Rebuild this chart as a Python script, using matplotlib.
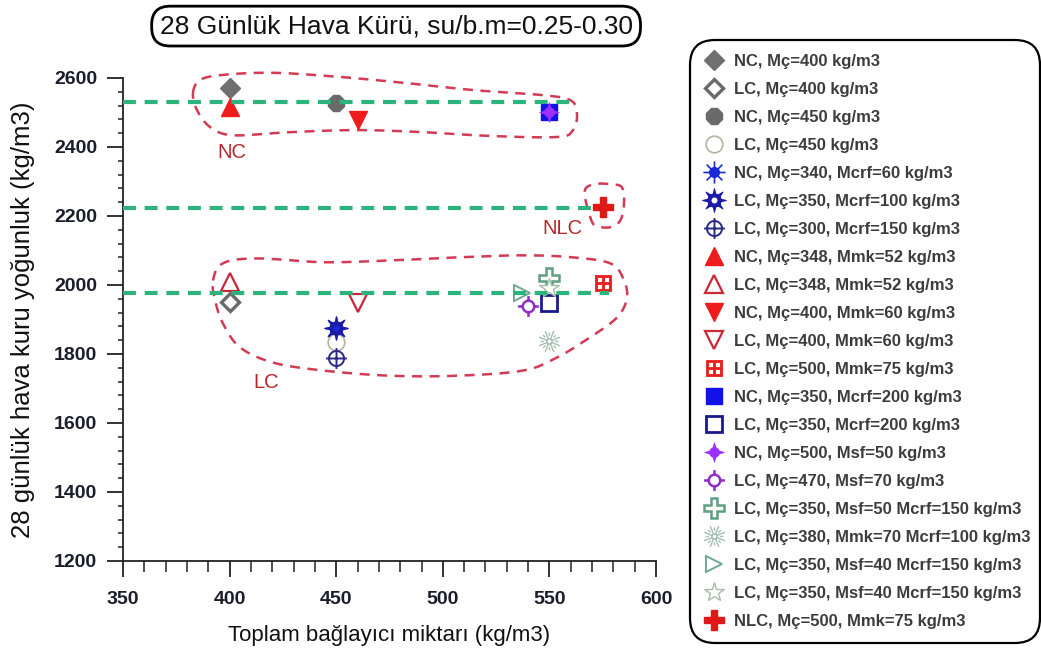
import numpy as np
import matplotlib
matplotlib.use("Agg")
import matplotlib.pyplot as plt
from matplotlib.path import Path

plt.rcParams['font.family'] = ['Liberation Sans', 'DejaVu Sans']

# ---------------- data ----------------
labels = [
    "NC, Mç=400 kg/m3",
    "LC, Mç=400 kg/m3",
    "NC, Mç=450 kg/m3",
    "LC, Mç=450 kg/m3",
    "NC, Mç=340, Mcrf=60 kg/m3",
    "LC, Mç=350, Mcrf=100 kg/m3",
    "LC, Mç=300, Mcrf=150 kg/m3",
    "NC, Mç=348, Mmk=52 kg/m3",
    "LC, Mç=348, Mmk=52 kg/m3",
    "NC, Mç=400, Mmk=60 kg/m3",
    "LC, Mç=400, Mmk=60 kg/m3",
    "LC, Mç=500, Mmk=75 kg/m3",
    "NC, Mç=350, Mcrf=200 kg/m3",
    "LC, Mç=350, Mcrf=200 kg/m3",
    "NC, Mç=500, Msf=50 kg/m3",
    "LC, Mç=470, Msf=70 kg/m3",
    "LC, Mç=350, Msf=50 Mcrf=150 kg/m3",
    "LC, Mç=380, Mmk=70 Mcrf=100 kg/m3",
    "LC, Mç=350, Msf=40 Mcrf=150 kg/m3",
    "LC, Mç=350, Msf=40 Mcrf=150 kg/m3",
    "NLC, Mç=500, Mmk=75 kg/m3",
]
binder = [400, 400, 450, 450, 450, 450, 450, 400, 400, 460, 460, 575,
          550, 550, 550, 540, 550, 550, 537, 550, 575]
density = [2570, 1950, 2527, 1835, 1874, 1874, 1787, 2515, 2010, 2478, 1947, 2005,
           2501, 1947, 2500, 1938, 2019, 1839, 1976, 1990, 2225]

# group mean levels (NC, NLC, LC)
group_names = ["NC", "NLC", "LC"]
group_level = [2530, 2222, 1976]
group_end = [562, 571, 578]

x_ticks = [350, 400, 450, 500, 550, 600]
y_ticks = [1200, 1400, 1600, 1800, 2000, 2200, 2400, 2600]


# ---------------- custom marker shapes ----------------
def circle_path(r, n=48, cw=False):
    t = np.linspace(0, 2 * np.pi, n, endpoint=False)
    if cw:
        t = -t
    v = np.column_stack([r * np.cos(t), r * np.sin(t)])
    v = np.vstack([v, v[:1]])
    codes = [Path.MOVETO] + [Path.LINETO] * (n - 1) + [Path.CLOSEPOLY]
    return Path(v, codes)


def segments_path(segs):
    verts, codes = [], []
    for a, b in segs:
        verts += [a, b]
        codes += [Path.MOVETO, Path.LINETO]
    return Path(verts, codes)


def polygon_path(pts):
    v = np.vstack([pts, pts[:1]])
    codes = [Path.MOVETO] + [Path.LINETO] * (len(pts) - 1) + [Path.CLOSEPOLY]
    return Path(v, codes)


def rays(n, r0, r1, offset=0.0):
    out = []
    for k in range(n):
        a = offset + 2 * np.pi * k / n
        out.append(((r0 * np.cos(a), r0 * np.sin(a)), (r1 * np.cos(a), r1 * np.sin(a))))
    return out


def spikes(n, rb, rt, half, offset=0.0):
    out = []
    for k in range(n):
        a = offset + 2 * np.pi * k / n
        pts = np.array([[rb * np.cos(a - half), rb * np.sin(a - half)],
                        [rt * np.cos(a), rt * np.sin(a)],
                        [rb * np.cos(a + half), rb * np.sin(a + half)]])
        out.append(polygon_path(pts))
    return out


sun_filled = Path.make_compound_path(circle_path(0.42), segments_path(rays(8, 0.42, 1.0)))
sun_open = Path.make_compound_path(circle_path(0.55), circle_path(0.3, cw=True),
                                   *spikes(8, 0.545, 1.0, 0.2))
cross_circle = Path.make_compound_path(circle_path(0.72),
                                       segments_path([((-1, 0), (1, 0)), ((0, -1), (0, 1))]))
dot_spikes = Path.make_compound_path(circle_path(0.5),
                                     *spikes(4, 0.49, 1.0, 0.3, offset=np.pi / 2))
ring_spikes = Path.make_compound_path(circle_path(0.55),
                                      segments_path(rays(4, 0.55, 1.0, offset=np.pi / 2)))
burst = Path.make_compound_path(circle_path(0.22), segments_path(rays(8, 0.22, 1.0, np.pi / 8)),
                                segments_path(rays(8, 0.5, 0.8)))
outer = np.array([[-1, -1], [1, -1], [1, 1], [-1, 1]], float)
win = []
for sx in (-1, 1):
    for sy in (-1, 1):
        a, b = sorted((0.14 * sx, 0.68 * sx))
        c, d = sorted((0.14 * sy, 0.68 * sy))
        win.append(polygon_path(np.array([[a, c], [a, d], [b, d], [b, c]])))
grid_square = Path.make_compound_path(polygon_path(outer), *win)

# per-series styling: marker, face, edge, size, edge width
styles = [
    dict(marker='D', mfc='#6f6f6f', mec='#6f6f6f', ms=10, mew=1),
    dict(marker='D', mfc='white', mec='#6a6a6a', ms=9, mew=2.4),
    dict(marker='8', mfc='#6a6a6a', mec='#6a6a6a', ms=12, mew=1),
    dict(marker='o', mfc='white', mec='#b4b4a4', ms=12, mew=1.2),
    dict(marker=sun_filled, mfc='#1a2ad8', mec='#1a2ad8', ms=16, mew=1.2),
    dict(marker=sun_open, mfc='#1c1ca8', mec='#1c1ca8', ms=17, mew=0.8),
    dict(marker=cross_circle, mfc='none', mec='#2a2a86', ms=15, mew=1.4),
    dict(marker='^', mfc='#ee1c1c', mec='#ee1c1c', ms=13, mew=1),
    dict(marker='^', mfc='white', mec='#c8283a', ms=13, mew=1.6),
    dict(marker='v', mfc='#ee1c1c', mec='#ee1c1c', ms=13, mew=1),
    dict(marker='v', mfc='white', mec='#c8283a', ms=13, mew=1.6),
    dict(marker=grid_square, mfc='#e81e1e', mec='#e81e1e', ms=12, mew=0.6),
    dict(marker='s', mfc='#1212e8', mec='#1212e8', ms=12, mew=1),
    dict(marker='s', mfc='white', mec='#1a1a8c', ms=12, mew=2),
    dict(marker=dot_spikes, mfc='#9b30ff', mec='#9b30ff', ms=14, mew=0.6),
    dict(marker=ring_spikes, mfc='white', mec='#9030c8', ms=15, mew=1.8),
    dict(marker='P', mfc='white', mec='#5f9f82', ms=14, mew=1.8),
    dict(marker=burst, mfc='none', mec='#a6beb2', ms=15, mew=1.0),
    dict(marker='>', mfc='white', mec='#6fa890', ms=12, mew=1.4),
    dict(marker='*', mfc='white', mec='#a8bca8', ms=15, mew=1.0),
    dict(marker='P', mfc='#e01818', mec='#e01818', ms=15, mew=1),
]


def closed_spline(pts, n=30):
    P = np.asarray(pts, float)
    m = len(P)
    t = np.linspace(0, 1, n, endpoint=False)[:, None]
    out = []
    for i in range(m):
        p0, p1, p2, p3 = P[(i - 1) % m], P[i], P[(i + 1) % m], P[(i + 2) % m]
        out.append(0.5 * (2 * p1 + (-p0 + p2) * t + (2 * p0 - 5 * p1 + 4 * p2 - p3) * t ** 2
                          + (-p0 + 3 * p1 - 3 * p2 + p3) * t ** 3))
    out = np.vstack(out)
    return np.vstack([out, out[:1]])


# outlines around each concrete group (data coordinates)
nc_outline = [(382.8, 2556), (386.1, 2594), (396.9, 2609), (420.4, 2615), (451.8, 2603),
              (483.2, 2585), (514.2, 2565), (545.6, 2551), (559.7, 2536), (562.9, 2498),
              (561.1, 2449), (553.6, 2429), (522.1, 2432), (490.7, 2443), (459.8, 2449),
              (428.3, 2443), (401.6, 2434), (390.8, 2458), (384.7, 2507)]
nlc_outline = [(566.5, 2270), (571.0, 2292), (579.0, 2292), (584.0, 2283), (585.0, 2240),
               (583.5, 2190), (579.0, 2168), (572.5, 2170), (569.5, 2190)]
lc_outline = [(392.2, 2013), (396.9, 2063), (412.9, 2077), (443.8, 2066), (475.2, 2071),
              (506.7, 2080), (537.6, 2086), (561.1, 2080), (578.4, 2063), (584.4, 2022),
              (586.4, 1964), (581.7, 1906), (569.0, 1848), (553.6, 1790), (537.6, 1752),
              (506.7, 1737), (475.2, 1737), (443.8, 1752), (420.4, 1775), (404.9, 1819),
              (396.9, 1888), (393.2, 1955)]
group_text_pos = [(401, 2385), (556, 2164), (417, 1717)]

# ---------------- figure ----------------
fig = plt.figure(figsize=(10.41, 6.52), dpi=100)
ax = fig.add_axes([0.1182, 0.1396, 0.512, 0.7408])

handles = []
for x, y, lab, st in zip(binder, density, labels, styles):
    h, = ax.plot([x], [y], linestyle='none', label=lab, zorder=3, clip_on=False,
                 marker=st['marker'], markerfacecolor=st['mfc'], markeredgecolor=st['mec'],
                 markersize=st['ms'], markeredgewidth=st['mew'])
    handles.append(h)

for lvl, xe in zip(group_level, group_end):
    ax.plot([350, xe], [lvl, lvl], color='#2cb47c', lw=3, linestyle=(0, (3.1, 2.1)),
            zorder=4, clip_on=False)

for outline in (nc_outline, nlc_outline, lc_outline):
    c = closed_spline(outline)
    ax.plot(c[:, 0], c[:, 1], color='#d23a55', lw=1.8, linestyle=(0, (4, 3)),
            zorder=2, clip_on=False)

for name, (tx, ty) in zip(group_names, group_text_pos):
    ax.text(tx, ty, name, color='#b5272d', fontsize=14.5, ha='center', va='center')

ax.set_xlim(350, 600)
ax.set_ylim(1200, 2600)
ax.set_xticks(x_ticks)
ax.set_yticks(y_ticks)
ax.set_xticks(np.arange(350, 601, 10), minor=True)
ax.set_yticks(np.arange(1200, 2601, 40), minor=True)
for s in ('top', 'right'):
    ax.spines[s].set_visible(False)
for s in ('left', 'bottom'):
    ax.spines[s].set_linewidth(1.3)
    ax.spines[s].set_color('#222222')
ax.tick_params(axis='both', which='major', direction='out', width=1.3, color='#222222',
               labelsize=14, labelcolor='#1c1c2a')
ax.tick_params(axis='y', which='major', length=11.5, pad=7)
ax.tick_params(axis='x', which='major', length=11.5, pad=10)
ax.tick_params(axis='y', which='minor', length=3.5, width=1.1, color='#222222')
ax.tick_params(axis='x', which='minor', length=8, width=1.1, color='#222222')
for lab in ax.get_xticklabels() + ax.get_yticklabels():
    lab.set_fontweight('bold')

ax.set_xlabel("Toplam bağlayıcı miktarı (kg/m3)", fontsize=16, color='#111111', labelpad=12)
ax.set_ylabel("28 günlük hava kuru yoğunluk (kg/m3)", fontsize=18.5, color='#111111',
              labelpad=14)

fig.text(0.3805, 0.960, "28 Günlük Hava Kürü, su/b.m=0.25-0.30", fontsize=19,
         ha='center', va='center', color='#111111',
         bbox=dict(boxstyle='round,pad=0.3,rounding_size=0.7', fc='white', ec='black', lw=2))

leg = ax.legend(handles=handles, loc='upper left', mode='expand',
                bbox_to_anchor=(690 / 1041, 12 / 652, 350 / 1041, 600 / 652),
                bbox_transform=fig.transFigure, borderaxespad=0, frameon=True,
                fancybox=True, prop=dict(size=12, weight='bold'),
                labelspacing=0.78, handlelength=1.2, handletextpad=0.6, borderpad=0.85,
                numpoints=1, labelcolor='#3c3c3c')
frame = leg.get_frame()
frame.set_edgecolor('black')
frame.set_linewidth(1.6)
frame.set_alpha(1)
frame.set_boxstyle('round,pad=0,rounding_size=1.5')

fig.savefig('out.png', dpi=100)
